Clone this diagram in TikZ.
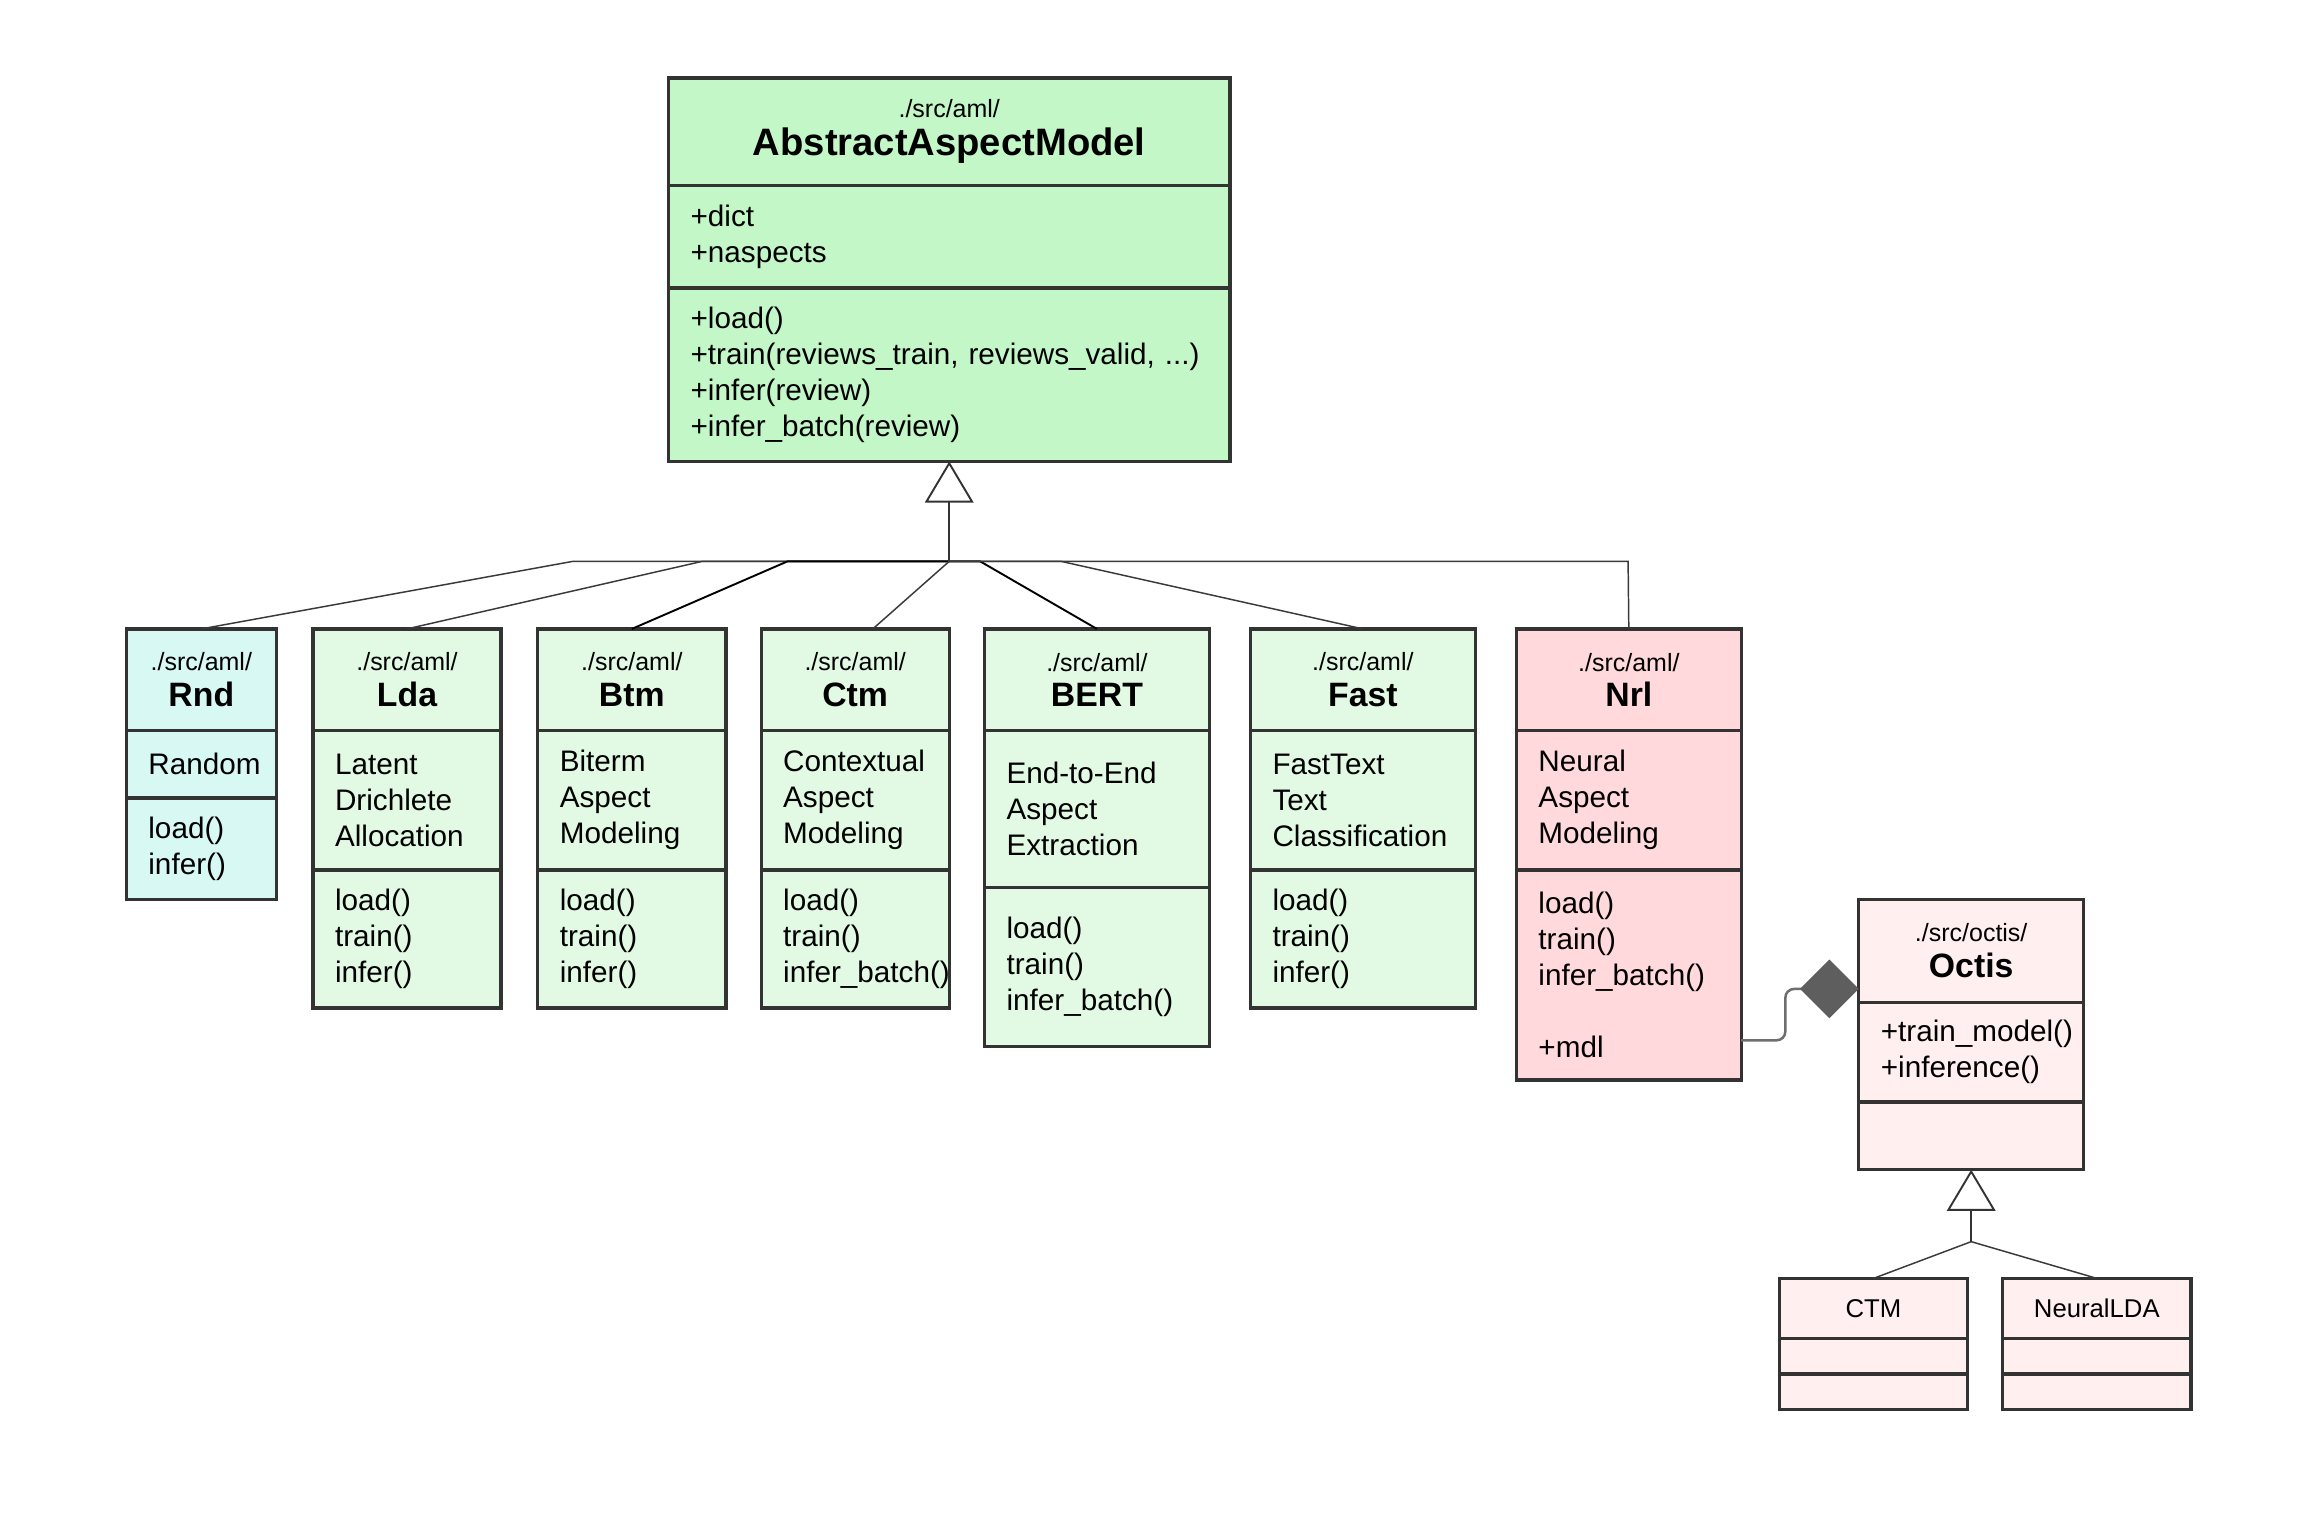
\documentclass[tikz,border=0pt]{standalone}
\usepackage{fontspec}
\setmainfont{Liberation Sans}
\usetikzlibrary{positioning, arrows.meta}
\hyphenpenalty=10000
\definecolor{umlborder}{HTML}{333333}
\definecolor{aamgreen}{HTML}{C3F7C8}
\definecolor{childgreen}{HTML}{E2FAE4}
\definecolor{rndcyan}{HTML}{D7F8F3}
\definecolor{nrlpink}{HTML}{FFD9DB}
\definecolor{octispink}{HTML}{FFEFEF}
\definecolor{linkgray}{HTML}{3A3A3A}
\definecolor{diamondgray}{HTML}{5E5E5E}
\newcommand{\titlefont}{\fontsize{23}{24}\selectfont\bfseries}
\tikzset{
	uml/.style={draw=umlborder, line width=2.2pt, outer sep=0pt, inner xsep=15pt, inner ysep=0pt, anchor=north west},
	head/.style={uml, align=center, font=\fontsize{17}{24}\selectfont},
	body/.style={uml, align=left, font=\fontsize{20.2}{24.5}\selectfont},
	rndw/.style={text width=72pt},
	midw/.style={text width=98pt},
	widew/.style={text width=123pt},
	gen/.style={draw=linkgray, line width=1pt},
	gendark/.style={draw=black, line width=1.3pt},
	inherit/.style={draw=umlborder, line width=1.4pt, -{Triangle[open, length=28pt, width=33pt, line width=1.3pt]}},
	compose/.style={draw=diamondgray!90!white, line width=1.7pt, rounded corners=6pt, -{Diamond[length=40pt, width=40pt, fill=diamondgray, color=diamondgray]}}
}

\begin{document}
\begin{tikzpicture}[x=1pt, y=-1pt]
	\useasboundingbox[fill=white] (0,0) rectangle (1568,1037);

	% abstract model
	\node[head, text width=352pt, fill=aamgreen, minimum height=73pt, font=\fontsize{17}{26}\selectfont] (aam) at (455,53) {./src/aml/\\{\fontsize{26}{26}\selectfont\bfseries AbstractAspectModel}};
	\node[body, text width=352pt, fill=aamgreen, minimum height=70pt, below=0pt of aam] (aama) {+dict\\+naspects};
	\node[body, text width=352pt, fill=aamgreen, minimum height=118pt, below=0pt of aama] (aamm) {+load()\\+train(reviews\_train, reviews\_valid, ...)\\+infer(review)\\+infer\_batch(review)};

	% models
	\node[head, rndw, fill=rndcyan, minimum height=69pt] (rnd) at (86,428) {./src/aml/\\{\titlefont Rnd}};
	\node[body, rndw, fill=rndcyan, minimum height=46pt, below=0pt of rnd] (rnda) {Random};
	\node[body, rndw, fill=rndcyan, minimum height=69pt, below=0pt of rnda] (rndm) {load()\\infer()};

	\node[head, midw, fill=childgreen, minimum height=69pt] (lda) at (213,428) {./src/aml/\\{\titlefont Lda}};
	\node[body, midw, fill=childgreen, minimum height=95pt, below=0pt of lda] (ldaa) {Latent\\Drichlete\\Allocation};
	\node[body, midw, fill=childgreen, minimum height=94pt, below=0pt of ldaa] (ldam) {load()\\train()\\infer()};

	\node[head, midw, fill=childgreen, minimum height=69pt] (btm) at (366,428) {./src/aml/\\{\titlefont Btm}};
	\node[body, midw, fill=childgreen, minimum height=95pt, below=0pt of btm] (btma) {Biterm\\Aspect\\Modeling};
	\node[body, midw, fill=childgreen, minimum height=94pt, below=0pt of btma] (btmm) {load()\\train()\\infer()};

	\node[head, midw, fill=childgreen, minimum height=69pt] (ctm) at (518,428) {./src/aml/\\{\titlefont Ctm}};
	\node[body, midw, fill=childgreen, minimum height=95pt, below=0pt of ctm] (ctma) {Contextual\\Aspect\\Modeling};
	\node[body, midw, fill=childgreen, minimum height=94pt, below=0pt of ctma] (ctmm) {load()\\train()\\infer\_batch()};

	\node[head, widew, fill=childgreen, minimum height=69pt] (bert) at (670,428) {./src/aml/\\{\titlefont BERT}};
	\node[body, widew, fill=childgreen, minimum height=107pt, below=0pt of bert] (berta) {End-to-End\\Aspect\\Extraction};
	\node[body, widew, fill=childgreen, minimum height=108pt, below=0pt of berta] (bertm) {load()\\train()\\infer\_batch()};

	\node[head, widew, fill=childgreen, minimum height=69pt] (fast) at (851,428) {./src/aml/\\{\titlefont Fast}};
	\node[body, widew, fill=childgreen, minimum height=95pt, below=0pt of fast] (fasta) {FastText\\Text\\Classification};
	\node[body, widew, fill=childgreen, minimum height=94pt, below=0pt of fasta] (fastm) {load()\\train()\\infer()};

	\node[head, widew, fill=nrlpink, minimum height=69pt] (nrl) at (1032,428) {./src/aml/\\{\titlefont Nrl}};
	\node[body, widew, fill=nrlpink, minimum height=95pt, below=0pt of nrl] (nrla) {Neural\\Aspect\\Modeling};
	\node[body, widew, fill=nrlpink, minimum height=143pt, below=0pt of nrla] (nrlm) {load()\\train()\\infer\_batch()\\[24.5pt]+mdl};

	% octis
	\node[head, widew, fill=octispink, minimum height=70pt] (octis) at (1265,612) {./src/octis/\\{\titlefont Octis}};
	\node[body, widew, fill=octispink, minimum height=68pt, below=0pt of octis] (octisa) {+train\_model()\\+inference()};
	\node[body, widew, fill=octispink, minimum height=46pt, below=0pt of octisa] (octism) {};

	\node[head, midw, fill=octispink, minimum height=41pt, font=\fontsize{17.5}{20}\selectfont] (octm) at (1211,870) {CTM};
	\node[body, midw, fill=octispink, minimum height=24pt, below=0pt of octm] (octma) {};
	\node[body, midw, fill=octispink, minimum height=24pt, below=0pt of octma] (octmm) {};

	\node[head, midw, fill=octispink, minimum height=41pt, font=\fontsize{17.5}{20}\selectfont] (nlda) at (1363,870) {NeuralLDA};
	\node[body, midw, fill=octispink, minimum height=24pt, below=0pt of nlda] (nldaa) {};
	\node[body, midw, fill=octispink, minimum height=24pt, below=0pt of nldaa] (nldam) {};

	% generalization
	\coordinate (hub) at (646,382);
	\draw[gen] (rnd.north) -- (390,382) -- (hub);
	\draw[gen] (lda.north) -- (478,382) -- (hub);
	\draw[gendark] (btm.north) -- (536,382) -- (hub);
	\draw[gen] ([xshift=12pt]ctm.north) -- (hub);
	\draw[gendark] (bert.north) -- (667,382) -- (hub);
	\draw[gen] (fast.north) -- (722,382) -- (hub);
	\draw[gen] (nrl.north) -- (1108,382) -- (hub);
	\draw[inherit] (hub) -- (aamm.south);

	\coordinate (ohub) at (1341.5,845);
	\draw[gen] (octm.north) -- (ohub);
	\draw[gen] (nlda.north) -- (ohub);
	\draw[inherit] (ohub) -- (octism.south);

	% composition
	\coordinate (mdl) at ([yshift=27pt]nrlm.south east);
	\draw[compose] (mdl) -| (1215,673) -- ([yshift=-26pt]octis.west);
\end{tikzpicture}
\end{document}
